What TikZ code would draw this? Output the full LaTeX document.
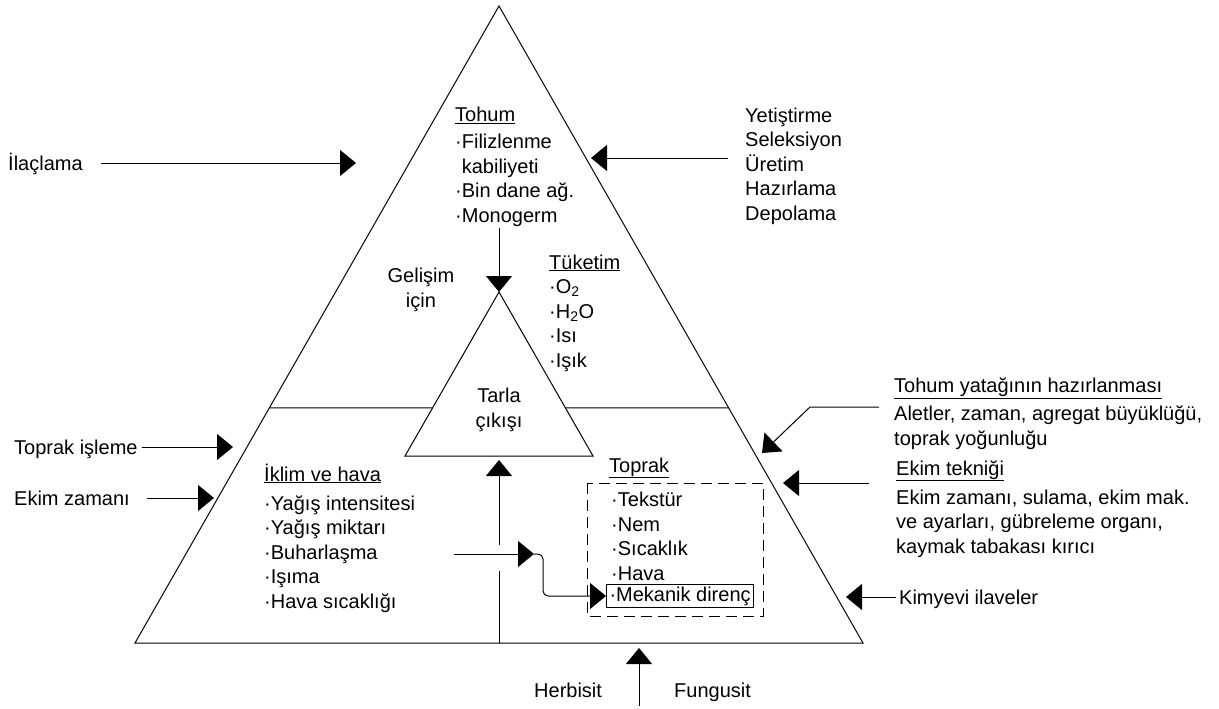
\documentclass[tikz,border=0pt]{standalone}
\usepackage{fontspec}
\setmainfont{Liberation Sans}
\usetikzlibrary{arrows.meta,calc}
\newcommand{\okciz}[2]{\draw[ok] (#1) -- (#2);}
\newcommand{\alti}[1]{\setbox0=\hbox{#1}\rlap{\rule[\dimexpr-\dp0-2pt\relax]{\wd0}{1pt}}\box0}
\tikzset{
		cizgi/.style={line width=1pt},
		ok/.style={cizgi, -{Triangle[length=16pt,width=26pt]}},
		yazi/.style={inner sep=0pt, anchor=base west, align=left},
		ortayazi/.style={inner sep=0pt, anchor=base, align=center},
		kutu/.style={draw, cizgi, anchor=west, inner xsep=3pt, inner ysep=2pt},
		kesik/.style={cizgi, dash pattern=on 11pt off 6pt}
	}
\begin{document}
\begin{tikzpicture}[x=1pt,y=-1pt]
		\fontsize{20}{24.5} \selectfont
		\useasboundingbox (0,0) rectangle (1219,709);
		% ucgenler
		\coordinate (tepe) at (499,6);
		\coordinate (solalt) at (135,643);
		\coordinate (sagalt) at (863,643);
		\coordinate (itepe) at (499,292);
		\coordinate (isol) at (405,456);
		\coordinate (isag) at (593,456);
		\draw[cizgi] (tepe) -- (solalt) -- (sagalt) -- cycle;
		\draw[cizgi] (itepe) -- (isol) -- (isag) -- cycle;
		\draw[cizgi] ($(tepe)!0.631!(solalt)$) -- ($(itepe)!0.707!(isol)$);
		\draw[cizgi] ($(itepe)!0.707!(isag)$) -- ($(tepe)!0.631!(sagalt)$);
		
		% yazilar (base = son satir)
		\node[yazi] (ilac) at (8,170) {İlaçlama};
		\node[yazi] (yetis) at (745,220) {Yetiştirme\\Seleksiyon\\Üretim\\Hazırlama\\Depolama};
		\node[yazi] (tohum) at (455,222) {\alti{Tohum}\\[2.5pt]·Filizlenme\\\phantom{·}kabiliyeti\\·Bin dane ağ.\\·Monogerm};
		\node[ortayazi] (gelisim) at (421,307) {Gelişim\\için};
		\node[yazi] (tuketim) at (549,367) {\alti{Tüketim}\\·O\textsubscript{2}\\·H\textsubscript{2}O\\·Isı\\·Işık};
		\node[ortayazi] (tarla) at (499,427) {Tarla\\çıkışı};
		\node[yazi] (iklim) at (264,608) {\alti{İklim ve hava}\\[4.5pt]·Yağış intensitesi\\·Yağış miktarı\\·Buharlaşma\\·Işıma\\·Hava sıcaklığı};
		\node[yazi] (toprak) at (609,472) {\alti{Toprak}};
		\node[yazi] (toprakliste) at (611,580) {·Tekstür\\·Nem\\·Sıcaklık\\·Hava};
		\node[kutu] (mekanik) at (606,596) {·Mekanik direnç};
		\node[yazi] (topis) at (14,454) {Toprak işleme};
		\node[yazi] (ekimzam) at (14,505) {Ekim zamanı};
		\node[yazi] (yatak) at (894,445) {\alti{Tohum yatağının hazırlanması}\\[3.5pt]Aletler, zaman, agregat büyüklüğü,\\toprak yoğunluğu};
		\node[yazi] (ekimtek) at (896,553) {\alti{Ekim tekniği}\\[4.5pt]Ekim zamanı, sulama, ekim mak.\\ve ayarları, gübreleme organı,\\kaymak tabakası kırıcı};
		\node[yazi] (kimyevi) at (899,604) {Kimyevi ilaveler};
		\node[yazi] (herbisit) at (534,697) {Herbisit};
		\node[yazi] (fungusit) at (674,697) {Fungusit};
		
		% toprak kutusu
		\coordinate (kesiksol) at (587,483);
		\coordinate (kesiksag) at (763,616);
		\draw[kesik] (kesiksol) rectangle (kesiksag);
		
		% oklar
		\coordinate (ilacuc) at (356,163);
		\coordinate (yetisuc) at (591,158);
		\coordinate (topisuc) at (233,447);
		\coordinate (ekimzamuc) at (214,498);
		\coordinate (yatakdon) at (810,407);
		\coordinate (yatakuc) at (762,453);
		\coordinate (ekimtekuc) at (783,483);
		\coordinate (kimyevuc) at (846,597);
		\coordinate (ilacalt) at (639,706);
		\coordinate (ilacust) at (639,648);
		\coordinate (buharbas) at (454,554);
		\coordinate (buharuc) at (534,554);
		\coordinate (dikalt) at (499,643);
		\coordinate (kopru1) at (499,571);
		\coordinate (kopru2) at (499,545);
		\coordinate (dikust) at (499,460);
		
		\draw[ok, shorten <=18pt] (ilac.east |- ilacuc) -- (ilacuc);
		\draw[ok, shorten <=17pt] (yetis.west |- yetisuc) -- (yetisuc);
		\draw[ok, shorten <=4pt] (topis.east |- topisuc) -- (topisuc);
		\draw[ok, shorten <=17pt] (ekimzam.east |- ekimzamuc) -- (ekimzamuc);
		\draw[ok, shorten <=15pt] (yatak.west |- yatakdon) -- (yatakdon) -- (yatakuc);
		\draw[ok, shorten <=27pt] (ekimtek.west |- ekimtekuc) -- (ekimtekuc);
		\draw[ok, shorten <=3pt] (kimyevi.west |- kimyevuc) -- (kimyevuc);
		\draw[ok, shorten <=2pt] (tohum.south -| itepe) -- (itepe);
		\okciz{ilacalt}{ilacust}
		\okciz{buharbas}{buharuc}
		\draw[ok, rounded corners=5pt] (buharuc) -- ++(9,0) |- (mekanik.west);
		\draw[cizgi] (dikalt) -- (kopru1);
		\okciz{kopru2}{dikust}
	\end{tikzpicture}
\end{document}
